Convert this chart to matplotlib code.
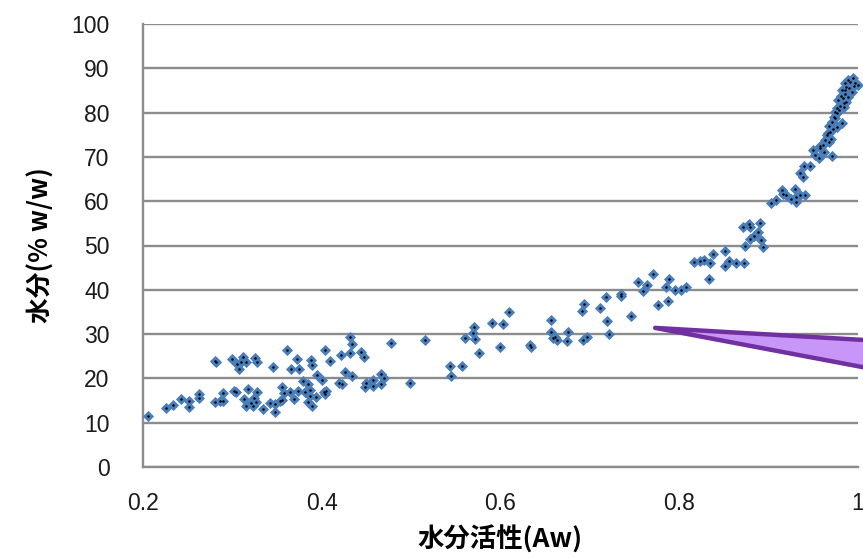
import matplotlib.pyplot as plt
from matplotlib.patches import Polygon

# water activity vs moisture content
aw = [0.206, 0.226, 0.234, 0.242, 0.251, 0.251, 0.263, 0.263, 0.281, 0.282,
      0.281, 0.286, 0.289, 0.289, 0.300, 0.305, 0.307, 0.310, 0.312, 0.315,
      0.325, 0.327, 0.345, 0.302, 0.304, 0.317, 0.327, 0.313, 0.315, 0.321,
      0.324, 0.326, 0.323, 0.334, 0.342, 0.348, 0.348, 0.353,
      0.361, 0.372, 0.388, 0.389, 0.404, 0.409, 0.421, 0.432, 0.434, 0.432,
      0.444, 0.447, 0.478, 0.366, 0.375, 0.395, 0.400, 0.379, 0.385, 0.355,
      0.358, 0.365, 0.373, 0.381, 0.387, 0.387, 0.394, 0.402, 0.405, 0.404,
      0.355, 0.369, 0.385, 0.389, 0.426, 0.434, 0.419, 0.423, 0.448, 0.450,
      0.457, 0.457, 0.466, 0.470, 0.466, 0.499,
      0.516, 0.543, 0.557, 0.545, 0.560, 0.570, 0.569, 0.571, 0.576, 0.590,
      0.603, 0.610, 0.599, 0.633, 0.634, 0.657, 0.657, 0.659,
      0.661, 0.663, 0.675, 0.674, 0.693, 0.691, 0.692, 0.697, 0.711, 0.718,
      0.719, 0.721, 0.735, 0.735, 0.746, 0.754, 0.764, 0.759, 0.771, 0.776,
      0.787, 0.785, 0.789, 0.795, 0.802, 0.808, 0.817, 0.823, 0.828, 0.834,
      0.838, 0.833,
      0.851, 0.851, 0.856, 0.864, 0.872, 0.874, 0.871, 0.878, 0.879, 0.890,
      0.879, 0.884, 0.888, 0.892, 0.894, 0.903, 0.908, 0.915, 0.916, 0.919,
      0.925, 0.929, 0.931, 0.931, 0.935, 0.941,
      0.935, 0.938, 0.940, 0.946, 0.950, 0.952, 0.956, 0.957, 0.961, 0.963,
      0.967, 0.971, 0.965, 0.969, 0.968, 0.971, 0.974, 0.976, 0.979, 0.982,
      0.980, 0.984, 0.978, 0.983, 0.985, 0.982, 0.987, 0.985, 0.991, 0.994,
      0.989, 0.997, 0.993, 0.989, 0.987, 0.984, 1.000, 0.976, 0.972, 0.974,
      0.958, 0.962, 0.966, 0.970, 0.973, 0.977, 0.981, 0.986, 0.990, 0.995]
moisture = [11.4, 13.4, 14.1, 15.3, 14.9, 13.6, 16.4, 15.6, 24.0, 23.7,
            14.6, 15.0, 16.8, 14.9, 24.4, 23.2, 22.1, 23.8, 24.8, 23.8,
            24.5, 23.7, 22.5, 17.2, 17.0, 17.6, 17.0, 15.3, 13.8, 14.5,
            15.5, 14.6, 13.8, 13.0, 14.4, 14.2, 12.5, 15.0,
            26.3, 24.4, 24.2, 23.0, 26.4, 23.9, 25.3, 29.3, 27.8, 25.7,
            25.9, 24.9, 27.9, 22.1, 22.1, 20.7, 19.7, 19.5, 18.7, 18.0,
            16.6, 16.9, 17.1, 16.9, 17.3, 16.1, 15.9, 17.0, 17.2, 16.5,
            15.1, 15.3, 14.7, 13.8, 21.4, 20.5, 19.0, 18.7, 18.1, 18.9,
            19.6, 18.3, 21.0, 20.1, 18.7, 18.9,
            28.7, 22.9, 22.9, 20.5, 29.1, 31.5, 30.3, 29.0, 25.7, 32.6,
            32.2, 35.1, 27.2, 27.5, 27.0, 33.2, 30.4, 29.1,
            29.4, 28.7, 30.5, 28.4, 36.8, 35.2, 28.7, 29.4, 35.9, 38.4,
            33.0, 30.0, 39.1, 38.6, 34.1, 41.8, 41.1, 39.8, 43.5, 36.5,
            37.4, 40.7, 42.4, 40.0, 40.0, 40.6, 46.3, 46.5, 46.7, 46.0,
            48.1, 42.4,
            48.8, 45.4, 46.5, 46.1, 46.0, 50.0, 54.2, 54.8, 54.1, 55.1,
            51.4, 52.1, 53.1, 51.2, 49.7, 59.7, 60.3, 62.5, 61.6, 61.4,
            60.4, 62.7, 61.0, 59.9, 61.4, 61.4,
            66.3, 65.4, 67.9, 67.9, 71.6, 70.4, 69.7, 71.9, 72.7, 73.8,
            73.4, 70.2, 74.9, 75.7, 77.0, 77.9, 78.7, 79.8, 80.6, 77.7,
            81.5, 81.3, 82.8, 83.2, 84.3, 85.1, 85.8, 86.6, 87.0, 87.7,
            87.4, 86.6, 84.7, 83.6, 82.5, 82.2, 86.2, 76.8, 76.4, 80.2,
            72.5, 71.0, 75.5, 74.0, 79.0, 81.0, 83.8, 85.0, 85.5, 86.0]

xticks = [0.2, 0.4, 0.6, 0.8, 1.0]
xticklabels = ['0.2', '0.4', '0.6', '0.8', '1']
yticks = list(range(0, 101, 10))

plt.rcParams['font.family'] = ['Liberation Sans', 'Noto Sans CJK JP']

fig = plt.figure(figsize=(8.63, 5.58), dpi=100)
ax = fig.add_axes([143 / 863, 91 / 558, 715 / 863, 443 / 558])

ax.plot(aw, moisture, 'D', ms=4.7, color='#4A7EBB', mec='#4A7EBB', mew=0.6,
        zorder=3, clip_on=False)
ax.plot(aw, moisture, '.', ms=1.6, color='black', zorder=4, clip_on=False)

ax.set_xlim(0.2, 1.0)
ax.set_ylim(0, 100)
ax.set_xticks(xticks)
ax.set_xticklabels(xticklabels)
ax.set_yticks(yticks)
ax.tick_params(length=0, labelsize=16.5, labelcolor='#1a1a1a')
ax.tick_params(axis='y', pad=24)
ax.tick_params(axis='x', pad=18)

ax.grid(axis='y', color='#8c8c8c', lw=1.7)
ax.set_axisbelow(True)
for s in ['top', 'right']:
    ax.spines[s].set_visible(False)
for s in ['left', 'bottom']:
    ax.spines[s].set_color('#8c8c8c')
    ax.spines[s].set_linewidth(1.7)

ax.set_xlabel('水分活性(Aw)', fontsize=19, fontweight='bold',
              family=['Noto Sans CJK JP'], labelpad=8)
ax.set_ylabel('水分(% w/w)', fontsize=18.5, fontweight='bold',
              family=['Noto Sans CJK JP'], labelpad=12)

# callout pointer coming in from the right
wedge = Polygon([(0.773, 31.4), (1.03, 28.4), (1.03, 21.6)], closed=True,
                facecolor='#C896F8', edgecolor='#7030A0', lw=3.2,
                joinstyle='round', clip_on=False, zorder=5)
ax.add_patch(wedge)

plt.savefig('out.png', dpi=100)
